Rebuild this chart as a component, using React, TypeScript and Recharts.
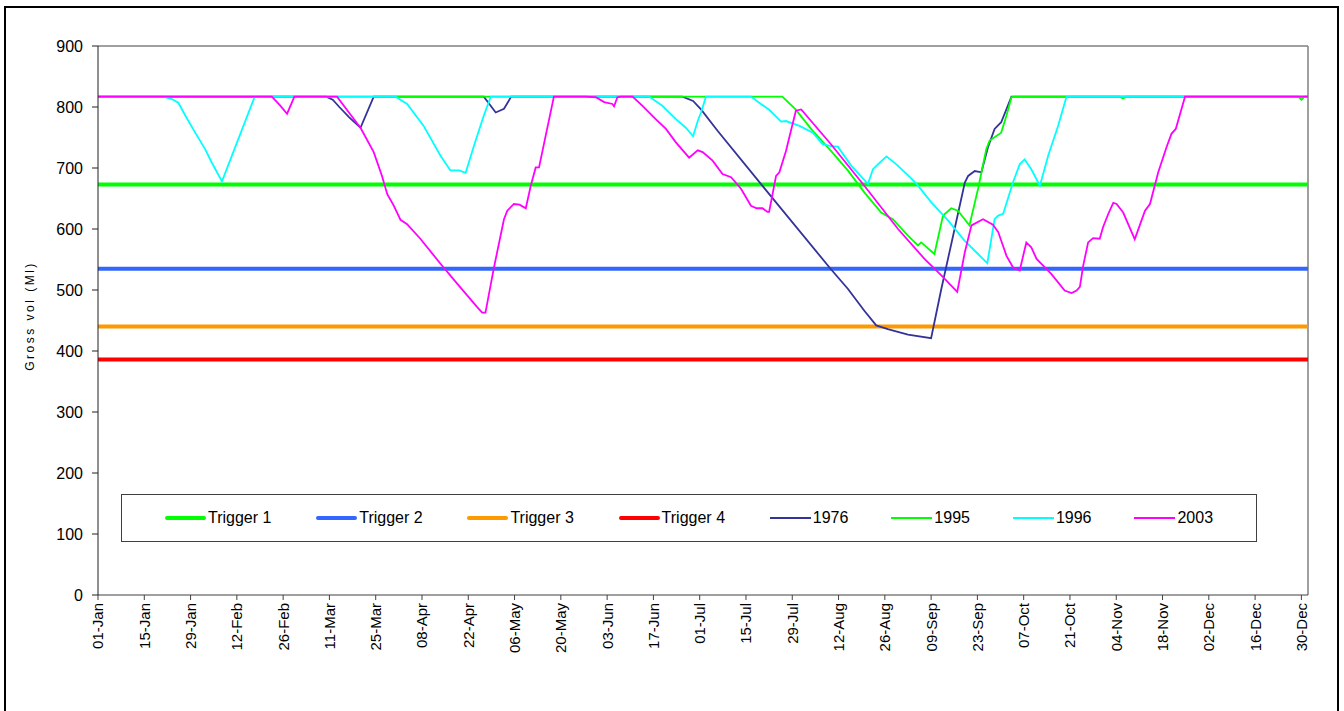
import { Line, LineChart, ReferenceLine, XAxis, YAxis } from "recharts";

// day of year (0 = 01-Jan, leap year) for the axis ticks
const tickDays = [0, 14, 28, 42, 56, 70, 84, 98, 112, 126, 140, 154, 168, 182, 196, 210, 224, 238, 252, 266, 280, 294, 308, 322, 336, 350, 364];
const tickLabels = [
  "01-Jan", "15-Jan", "29-Jan", "12-Feb", "26-Feb", "11-Mar", "25-Mar", "08-Apr", "22-Apr",
  "06-May", "20-May", "03-Jun", "17-Jun", "01-Jul", "15-Jul", "29-Jul", "12-Aug", "26-Aug",
  "09-Sep", "23-Sep", "07-Oct", "21-Oct", "04-Nov", "18-Nov", "02-Dec", "16-Dec", "30-Dec",
];
const yTicks = [0, 100, 200, 300, 400, 500, 600, 700, 800, 900];

const triggerNames = ["Trigger 1", "Trigger 2", "Trigger 3", "Trigger 4"];
const triggerLevels = [673, 535, 440, 386];
const triggerColors = ["#00FF00", "#3366FF", "#FF9900", "#FF0000"];

const yearNames = ["1976", "1995", "1996", "2003"];
const yearColors = ["#333399", "#00FF00", "#00FFFF", "#FF00FF"];

// [day, gross vol] vertices
const vol1976 = [
  [0, 817], [69, 817], [71, 812], [73, 800], [76, 783], [79.4, 766], [83.4, 817], [116.7, 817],
  [120.3, 791], [122.8, 797], [125, 817], [176.8, 817], [180, 810], [182.4, 796], [187.4, 761],
  [202.6, 660], [221.7, 534], [226.8, 502], [231.8, 466], [235.4, 442], [238.9, 436], [245, 427],
  [252, 421], [255.1, 502], [259.1, 600], [262.2, 676], [263.2, 687], [265.2, 695], [267.2, 693],
  [269.2, 734], [271.2, 764], [273.2, 775], [276.3, 817], [366, 817],
];
const vol1995 = [
  [0, 817], [207, 817], [211, 796], [216, 762], [221.7, 728], [226.8, 696], [231.8, 660],
  [236.9, 627], [240.4, 616], [245, 589], [248, 573], [249, 578], [253, 559], [255.6, 622],
  [258.1, 634], [260.1, 630], [263.6, 606], [266.2, 666], [268.7, 731], [269.7, 745], [273.2, 758],
  [274.8, 786], [276.3, 816], [277, 817], [309, 817], [310, 814], [311, 817], [363, 817],
  [364, 812], [365, 817], [366, 817],
];
const vol1996 = [
  [0, 817], [19.8, 817], [22.3, 813], [24.3, 807], [26.4, 786], [29.4, 758], [32.4, 731],
  [34.4, 709], [37.5, 678], [47.4, 817], [90, 817], [93.5, 805], [98.5, 769], [103.6, 720],
  [106.6, 696], [109.2, 696], [111.2, 692], [113.7, 736], [116.7, 786], [118.8, 817], [166.7, 817],
  [170.7, 802], [174.8, 780], [177.8, 766], [180, 752], [181.4, 777], [182.4, 791], [183.9, 817],
  [197.5, 817], [200, 807], [203.1, 795], [206.6, 776], [208.1, 777], [212.2, 769], [216.2, 758],
  [219.2, 739], [221.7, 736], [223.8, 735], [227.8, 704], [232.9, 674], [234.4, 698], [235.9, 706],
  [238.5, 719], [241.5, 706], [245.6, 685], [247.6, 674], [252, 644], [257.1, 614], [262.1, 581],
  [266.2, 559], [269, 544], [271.2, 616], [272.3, 622], [273.8, 625], [276.8, 677], [278.8, 706],
  [280.3, 714], [282.3, 698], [284.9, 671], [287.4, 720], [290.4, 769], [292.9, 816], [293.4, 817],
  [366, 817],
];
const vol2003 = [
  [0, 817], [52.6, 817], [55, 803], [57.2, 789], [59.4, 817], [72.3, 817], [76.3, 788], [79.4, 766],
  [83.4, 726], [85.9, 687], [87.5, 657], [89.5, 638], [91.5, 615], [93.5, 608], [97.5, 584],
  [103.6, 543], [108.7, 510], [114.7, 472], [116.2, 463], [117.2, 463], [119.7, 535], [122.8, 616],
  [123.8, 630], [125.8, 641], [127.5, 640], [129.4, 634], [130.9, 671], [132.4, 701], [133.4, 701],
  [137.9, 817], [147.5, 817], [150.6, 816], [153.1, 808], [155.6, 805], [156.1, 801], [157.1, 816],
  [158.1, 817], [161.7, 817], [164.7, 802], [168.7, 780], [171.8, 764], [174.8, 742], [178.8, 717],
  [181.4, 729], [182.9, 726], [185.9, 712], [188.9, 690], [191.5, 685], [194.5, 666], [197.5, 638],
  [199.2, 634], [201, 634], [202.5, 628], [203, 628], [205.1, 687], [206.1, 693], [208.1, 728],
  [209.6, 761], [211.1, 794], [212.7, 796], [221.7, 739], [231.8, 671], [242, 600], [250, 551],
  [255.1, 524], [259.9, 497], [262.2, 562], [264.2, 606], [267.7, 616], [270.7, 607], [272.3, 595],
  [274.8, 556], [276.8, 537], [278.8, 532], [280.8, 578], [282.3, 570], [283.9, 551], [288.4, 526],
  [292.4, 499], [294.5, 495], [296, 499], [297, 505], [298, 540], [299.5, 578], [301, 585],
  [303, 584], [304, 603], [305.6, 625], [307.1, 643], [308.1, 641], [310.1, 627], [313.6, 583],
  [315.1, 606], [316.7, 630], [318.2, 641], [320.7, 693], [323.2, 734], [324.7, 756], [326, 764],
  [328.8, 817], [366, 817],
];

const yearVols = [vol1976, vol1995, vol1996, vol2003];

const FONT = "'Liberation Sans', Arial, sans-serif";

const toPoints = (rows: number[][]) => rows.map(([d, v]) => ({ d, v }));

function DateTick({ x, y, payload }: any) {
  const idx = tickDays.indexOf(payload.value);
  return (
    <g transform={`translate(${x},${y})`}>
      <text transform="rotate(-90)" textAnchor="end" dy="0.36em" fontSize={15} fill="#000" fontFamily={FONT}>
        {tickLabels[idx]}
      </text>
    </g>
  );
}

function LegendBox() {
  const items = [
    ...triggerNames.map((name, i) => ({ name, color: triggerColors[i], thick: true })),
    ...yearNames.map((name, i) => ({ name, color: yearColors[i], thick: false })),
  ];
  return (
    <div
      style={{
        position: "absolute",
        left: 121,
        top: 494,
        width: 1136,
        height: 48,
        border: "1px solid #404040",
        background: "#fff",
        display: "flex",
        alignItems: "center",
        paddingLeft: 43,
        boxSizing: "border-box",
        fontFamily: FONT,
        fontSize: 16,
      }}
    >
      {items.map((it) => (
        <div key={it.name} style={{ display: "flex", alignItems: "center", width: it.thick ? 153 : 123 }}>
          <span
            style={{
              display: "inline-block",
              width: 41,
              height: it.thick ? 4 : 2,
              background: it.color,
              borderRadius: it.thick ? 2 : 0,
              marginRight: 2,
            }}
          />
          <span>{it.name}</span>
        </div>
      ))}
    </div>
  );
}

export default function App() {
  return (
    <div style={{ position: "absolute", left: 0, top: 0, width: 1344, height: 711, background: "#fff", overflow: "hidden" }}>
      <div
        style={{
          position: "absolute",
          left: 4,
          top: 6,
          width: 1331,
          height: 760,
          border: "2px solid #000",
        }}
      />
      <div style={{ position: "absolute", left: 0, top: 0 }}>
        <LineChart width={1344} height={711} margin={{ top: 46, right: 36, left: 38, bottom: 56 }}>
          <XAxis
            type="number"
            dataKey="d"
            domain={[0, 366]}
            ticks={tickDays}
            interval={0}
            allowDuplicatedCategory={false}
            stroke="#404040"
            tickSize={5}
            tickMargin={3}
            height={60}
            tick={<DateTick />}
          />
          <YAxis
            type="number"
            domain={[0, 900]}
            ticks={yTicks}
            interval={0}
            width={60}
            stroke="#202020"
            tickSize={6}
            tickMargin={9}
            tick={{ fontSize: 16, fill: "#000", fontFamily: FONT }}
          />
          <ReferenceLine y={900} stroke="#808080" strokeWidth={1.5} />
          <ReferenceLine x={366} stroke="#808080" strokeWidth={1.5} />
          {triggerNames.map((name, i) => (
            <Line
              key={name}
              name={name}
              data={[{ d: 0, v: triggerLevels[i] }, { d: 366, v: triggerLevels[i] }]}
              dataKey="v"
              stroke={triggerColors[i]}
              strokeWidth={4}
              dot={false}
              activeDot={false}
              isAnimationActive={false}
            />
          ))}
          {yearNames.map((name, i) => (
            <Line
              key={name}
              name={name}
              data={toPoints(yearVols[i])}
              dataKey="v"
              type="linear"
              stroke={yearColors[i]}
              strokeWidth={1.8}
              dot={false}
              activeDot={false}
              isAnimationActive={false}
            />
          ))}
        </LineChart>
      </div>
      <div
        style={{
          position: "absolute",
          left: 30,
          top: 316,
          transform: "translate(-50%, -50%) rotate(-90deg)",
          fontFamily: FONT,
          fontSize: 12,
          letterSpacing: 2.5,
          whiteSpace: "nowrap",
        }}
      >
        Gross vol (Ml)
      </div>
      <LegendBox />
    </div>
  );
}
